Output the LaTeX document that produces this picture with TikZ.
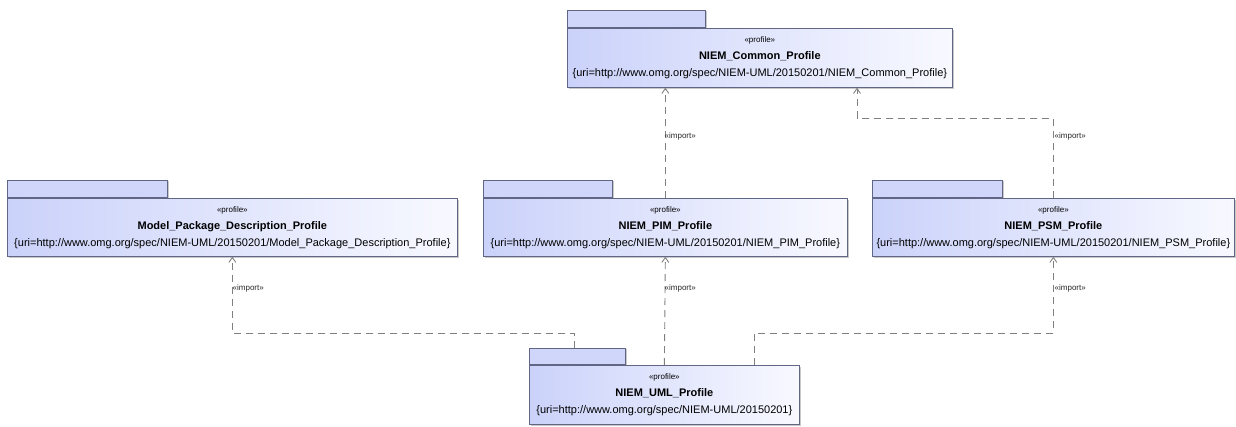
\documentclass[tikz,border=0pt]{standalone}
\usepackage{fontspec}
\setmainfont{Liberation Sans}
\usetikzlibrary{arrows.meta,shadows}
\definecolor{pkgL}{RGB}{203,210,250}
\definecolor{pkgR}{RGB}{248,249,255}
\definecolor{tabF}{RGB}{208,214,250}
\definecolor{pkgB}{RGB}{96,102,132}
\definecolor{lnk}{RGB}{128,128,128}
\newcommand\pkgtext[2]{{\fontsize{8}{9}\selectfont «profile»}\\{\bfseries #1}\\#2}
\begin{document}
\begin{tikzpicture}[x=1pt,y=-1pt,
  pkg/.style={draw=pkgB, line width=0.7pt, left color=pkgL, right color=pkgR,
    anchor=north west, inner sep=0pt, align=center,
    font=\fontsize{11}{17}\selectfont,
    drop shadow={shadow xshift=2pt, shadow yshift=-2pt, fill=black!30, opacity=0.7}},
  tabbox/.style={draw=pkgB, line width=0.7pt, fill=tabF,
    anchor=south west, inner sep=0pt, minimum height=17pt,
    drop shadow={shadow xshift=2pt, shadow yshift=-0.5pt, fill=black!30, opacity=0.7}},
  imp/.style={draw=lnk, line width=0.9pt, dash pattern=on 7pt off 5pt,
    -{Straight Barb[length=5pt,width=7pt]}},
  implbl/.style={anchor=west, inner sep=0.5pt, font=\fontsize{8}{9}\selectfont, text=black!85}]
\useasboundingbox (0,0) rectangle (1236,426);

% packages
\node[pkg, minimum width=385, minimum height=59] (common) at (567,28)
  {\pkgtext{NIEM\_Common\_Profile}{\{uri=http://www.omg.org/spec/NIEM-UML/20150201/NIEM\_Common\_Profile\}}};
\node[tabbox, minimum width=138] (commontab) at (common.north west) {};

\node[pkg, minimum width=450, minimum height=58] (model) at (7,198)
  {\pkgtext{Model\_Package\_Description\_Profile}{\{uri=http://www.omg.org/spec/NIEM-UML/20150201/Model\_Package\_Description\_Profile\}}};
\node[tabbox, minimum width=160] (modeltab) at (model.north west) {};

\node[pkg, minimum width=364, minimum height=58] (pim) at (483,198)
  {\pkgtext{NIEM\_PIM\_Profile}{\{uri=http://www.omg.org/spec/NIEM-UML/20150201/NIEM\_PIM\_Profile\}}};
\node[tabbox, minimum width=129] (pimtab) at (pim.north west) {};

\node[pkg, minimum width=362, minimum height=58] (psm) at (872,198)
  {\pkgtext{NIEM\_PSM\_Profile}{\{uri=http://www.omg.org/spec/NIEM-UML/20150201/NIEM\_PSM\_Profile\}}};
\node[tabbox, minimum width=130] (psmtab) at (psm.north west) {};

\node[pkg, minimum width=270, minimum height=59] (uml) at (529,365)
  {\pkgtext{NIEM\_UML\_Profile}{\{uri=http://www.omg.org/spec/NIEM-UML/20150201\}}};
\node[tabbox, minimum width=96, minimum height=16pt] (umltab) at (uml.north west) {};

% connectors
\draw[imp] (pim.north) -- (pim.north |- common.south);
\node[implbl] (l1) at (664,136) {«import»};

\coordinate (pc) at (857,118);
\draw[imp] (psm.north) |- (pc) -- (pc |- common.south);
\node[implbl] (l2) at (1054,136) {«import»};

\coordinate (um) at (574,333);
\draw[imp] (um |- umltab.north) -- (um) -| (model.south);
\node[implbl] (l3) at (232,288) {«import»};

\draw[imp] (uml.north) -- (pim.south);
\node[implbl] (l4) at (664,288) {«import»};

\coordinate (up) at (754,333);
\draw[imp] (up |- uml.north) -- (up) -| (psm.south);
\node[implbl] (l5) at (1054,288) {«import»};
\end{tikzpicture}
\end{document}
